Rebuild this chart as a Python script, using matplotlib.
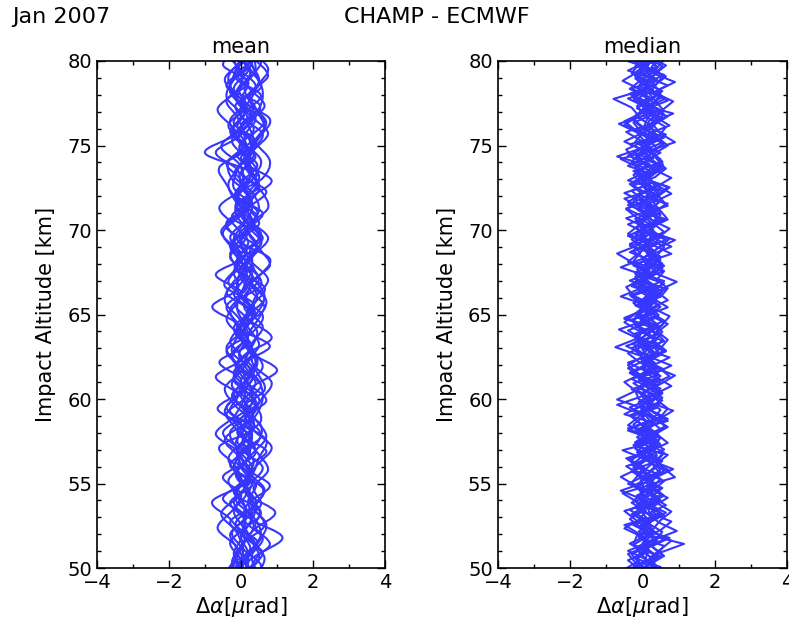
import matplotlib

matplotlib.use("Agg")
import matplotlib.pyplot as plt
import numpy as np
from matplotlib.patches import PathPatch
from matplotlib.path import Path
from matplotlib.ticker import MultipleLocator

# profiles of CHAMP - ECMWF bending angle difference, bottom (50 km) to top (80 km)
# "mean" panel: about one value per km
MEAN_PROFILES = [
    [0.05, 0.20, -0.10, 0.30, 0.15, -0.20, 0.25, 0.40, 0.00, -0.30, 0.10, 0.35, -0.10, 0.20, 0.05, -0.25,
     0.30, 0.10, -0.15, 0.20, 0.45, 0.00, -0.20, 0.10, 0.30, -0.10, 0.25, 0.00, -0.30, 0.10, 0.00],
    [0.10, -0.10, 0.30, 0.50, 0.10, 0.00, -0.30, 0.10, 0.50, 0.20, -0.10, 0.00, 0.40, 0.10, -0.30, 0.00,
     0.20, 0.55, 0.10, -0.20, 0.00, 0.30, 0.10, -0.40, 0.00, 0.20, 0.50, 0.10, -0.10, 0.20, 0.10],
    [0.20, 0.50, 1.15, 0.30, -0.20, 0.20, 0.60, 0.00, -0.50, 0.10, 0.30, -0.20, 0.10, 0.50, 0.20, -0.10,
     0.00, 0.30, -0.30, 0.10, 0.20, -0.10, 0.40, 0.20, -1.00, -0.20, 0.30, 0.00, 0.20, -0.10, 0.90],
    [-0.10, 0.30, 0.10, -0.40, 0.00, 0.40, 0.20, -0.10, 0.30, 0.60, 0.10, -0.20, 0.20, 0.00, 0.45, 0.20,
     -0.20, 0.00, 0.40, 0.10, -0.30, 0.20, 0.50, 0.00, -0.10, 0.35, 0.00, -0.40, 0.10, 0.30, -0.10],
    [0.00, 0.10, 0.40, 0.20, -0.30, -0.10, 0.30, 0.70, 0.20, 0.00, -0.40, 0.10, 0.30, -0.10, 0.00, 0.50,
     0.10, -0.20, 0.20, 0.60, 0.10, -0.10, 0.30, 0.00, 0.20, 0.60, 0.10, -0.30, 0.00, 0.40, 0.20],
    [0.15, -0.20, 0.00, 0.60, 0.30, 0.10, -0.20, 0.20, 0.00, 0.50, 0.30, -0.30, 0.00, 0.30, -0.20, 0.10,
     0.60, 0.20, 0.00, -0.30, 0.10, 0.40, -0.20, 0.20, 0.10, -0.30, 0.00, 0.60, 0.20, -0.20, 0.30],
    [-0.20, 0.00, 0.20, -0.20, 0.50, 0.20, -0.10, 0.00, -0.60, -0.10, 0.20, 0.50, 0.00, -0.30, 0.20, 0.40,
     -0.10, 0.20, 0.00, 0.30, -0.10, -0.50, 0.10, 0.40, 0.20, 0.00, -0.20, 0.30, 0.50, 0.00, -0.20],
    [0.10, 0.30, -0.20, 0.10, 0.70, 0.00, 0.10, -0.40, 0.20, 0.30, -0.20, 0.40, 0.20, -0.10, 0.60, 0.00,
     -0.40, 0.30, 0.10, 0.00, 0.30, -0.20, 0.00, 0.60, -0.10, 0.10, 0.40, 0.20, 0.00, 0.50, 0.10],
    [0.30, 0.00, 0.20, -0.10, -0.60, 0.30, 0.50, 0.10, -0.10, 0.40, 0.00, 0.20, -0.40, 0.40, 0.10, -0.10,
     0.20, -0.50, 0.30, 0.10, -0.20, 0.50, 0.20, 0.10, -0.50, 0.20, 0.10, -0.20, 0.40, -0.30, 0.20],
    [0.00, 0.40, 0.20, 0.00, 0.30, 0.50, -0.20, 0.30, 0.10, -0.10, 0.60, 0.10, -0.20, 0.20, 0.00, 0.30,
     0.00, 0.40, -0.10, -0.40, 0.20, 0.10, 0.60, -0.10, 0.30, -0.20, 0.20, 0.40, -0.50, 0.00, 0.30],
    [0.20, -0.10, 0.50, 0.10, 0.20, -0.50, 0.00, 0.20, 0.40, -0.20, 0.10, 0.00, 0.70, 0.00, -0.10, 0.20,
     0.40, 0.00, 0.50, 0.20, -0.10, 0.30, -0.40, 0.30, 0.50, 0.10, -0.30, 0.20, 0.30, 0.10, -0.10],
    [-0.05, 0.20, 0.00, 0.40, -0.20, 0.30, 0.10, -0.30, 0.60, 0.00, 0.20, -0.40, 0.30, 0.00, 0.20, -0.50,
     0.20, 0.10, 0.30, 0.00, 0.40, 0.20, -0.10, -0.30, 0.40, 0.00, 0.30, -0.10, 0.10, 0.60, 0.00],
    [0.10, 0.00, -0.30, 0.20, 0.40, 0.10, 0.30, 0.00, 0.30, -0.20, 0.50, 0.20, 0.00, -0.40, 0.30, 0.60,
     0.00, -0.10, 0.20, 0.40, -0.40, 0.00, 0.20, 0.50, 0.00, 0.40, -0.20, 0.10, -0.20, 0.20, 0.40],
    [0.25, 0.10, 0.40, -0.10, 0.00, 0.60, 0.00, 0.50, -0.30, 0.20, 0.40, 0.30, -0.10, 0.60, -0.20, 0.10,
     -0.20, 0.30, 0.60, -0.20, 0.30, 0.00, 0.30, 0.10, -0.30, 0.30, 0.60, -0.10, 0.30, 0.00, -0.30],
    [-0.10, 0.10, 0.20, 0.00, -0.40, 0.10, 0.40, 0.20, 0.00, 0.20, -0.50, 0.20, 0.50, 0.10, 0.30, 0.20,
     0.50, -0.30, 0.00, 0.30, 0.10, 0.60, 0.00, 0.20, 0.10, -0.40, 0.10, 0.50, 0.00, -0.20, 0.20],
    [0.05, 0.50, 0.00, 0.20, 0.10, 0.30, -0.40, 0.10, 0.20, 0.00, 0.30, -0.30, 0.00, 0.20, 0.50, 0.00,
     0.10, 0.20, -0.20, 0.50, 0.00, -0.20, 0.40, 0.10, 0.20, 0.50, -0.10, 0.00, 0.40, 0.20, 0.10],
    [0.00, -0.20, 0.10, 0.40, 0.20, -0.10, 0.30, 0.00, -0.40, 0.20, 0.50, 0.10, 0.30, -0.20, 0.00, 0.40,
     0.20, -0.30, 0.10, 0.50, 0.20, -0.10, 0.00, 0.40, 0.60, 0.10, -0.30, 0.20, 0.00, 0.30, -0.10],
    [0.20, 0.40, 0.00, -0.20, 0.30, 0.10, 0.50, 0.20, -0.20, 0.00, 0.30, 0.60, 0.10, 0.00, -0.30, 0.20,
     0.40, 0.10, -0.10, 0.30, 0.00, 0.50, 0.30, -0.20, 0.10, 0.00, 0.40, -0.20, 0.20, 0.50, 0.00],
    [-0.10, 0.10, 0.60, 0.30, 0.00, 0.20, -0.30, 0.40, 0.10, 0.20, -0.20, 0.30, 0.00, 0.50, 0.20, -0.20,
     0.10, 0.30, 0.50, 0.00, -0.30, 0.20, 0.40, 0.20, -0.20, 0.50, 0.10, 0.30, -0.10, 0.00, 0.20],
    [0.10, 0.00, 0.30, -0.30, 0.20, 0.50, 0.00, -0.20, 0.40, 0.10, 0.00, 0.40, -0.30, 0.10, 0.30, 0.00,
     0.30, 0.00, -0.30, 0.40, 0.20, 0.00, -0.30, 0.30, 0.10, 0.20, 0.00, -0.30, 0.40, 0.10, -0.20],
    [0.00, 0.30, 0.10, 0.20, -0.20, 0.40, 0.10, 0.00, 0.40, -0.30, 0.20, 0.10, 0.50, 0.20, -0.10, 0.30,
     -0.30, 0.20, 0.40, -0.10, 0.20, 0.40, -0.10, 0.00, 0.30, 0.20, 0.50, 0.00, -0.20, 0.30, 0.10],
    [0.10, -0.30, 0.20, 0.00, 0.50, 0.20, 0.10, 0.30, 0.00, 0.30, 0.20, -0.10, 0.20, 0.40, 0.00, 0.10,
     0.30, 0.60, -0.20, 0.00, 0.50, -0.30, 0.20, 0.00, 0.40, -0.10, 0.30, 0.10, 0.50, -0.20, 0.30],
]
# lowest level of each mean profile, km below 50
MEAN_ALT_SHIFT = [0.0, 0.5, 0.25, 0.75, 0.1, 0.6, 0.35, 0.85, 0.2, 0.45, 0.7,
                  0.05, 0.55, 0.3, 0.9, 0.15, 0.65, 0.4, 0.8, 0.5, 0.25, 0.95]
# overall bias of each mean profile, microrad
MEAN_BIAS = [-0.15, 0.2, 0.0, -0.25, 0.15, 0.05, -0.1, 0.25, -0.2, 0.1, 0.3,
             -0.3, 0.0, 0.2, -0.15, 0.1, -0.05, 0.25, -0.2, 0.15, -0.1, 0.05]

# "median" panel: about one value per half km
MEDIAN_PROFILES = [
    [0.0, 0.3, -0.2, 0.4, 0.1, -0.3, 0.5, 0.0, 0.2, -0.4, 0.3, 0.6, -0.1, 0.2, 0.0, 0.5, -0.2, 0.3, 0.1, -0.5,
     0.2, 0.4, -0.1, 0.6, 0.1, -0.2, 0.3, 0.0, 0.5, -0.3, 0.2, 0.1, 0.6, -0.1, 0.3, -0.4, 0.2, 0.5, 0.0, 0.3,
     -0.2, 0.4, 0.1, -0.3, 0.5, 0.2, 0.0, 0.4, -0.2, 0.3, 0.6, 0.0, -0.3, 0.2, 0.4, -0.1, 0.3, 0.0, 0.5, -0.2,
     0.1],
    [0.2, -0.1, 0.4, 0.1, 0.6, -0.2, 0.1, 0.3, -0.3, 0.4, 0.0, 0.2, 0.7, 0.1, -0.2, 0.3, 0.0, 0.5, 0.2, -0.1,
     0.4, 0.0, -0.4, 0.3, 0.1, 0.6, -0.1, 0.2, 0.4, 0.0, -0.3, 0.3, 0.1, 0.5, -0.2, 0.4, 0.0, 0.2, -0.5, 0.3,
     0.6, 0.1, -0.1, 0.3, 0.0, -0.4, 0.2, 0.5, 0.1, -0.2, 0.4, 0.0, 0.6, 0.2, -0.3, 0.1, 0.4, -0.1, 0.2, 0.5,
     0.0],
    [-0.2, 0.1, 0.5, 1.15, 0.2, -0.1, 0.3, 0.0, 0.5, 0.2, -0.4, 0.1, 0.4, 0.0, 0.6, 0.2, -0.2, 0.3, 0.5, 0.0,
     0.2, -0.3, 0.4, 0.1, 0.0, 0.5, 0.3, -0.2, 0.1, 0.6, 0.2, -0.1, 0.4, -0.3, 0.2, 0.0, 0.5, 0.1, 0.3, -0.2,
     0.2, 0.4, -0.1, 0.1, 0.6, 0.0, 0.3, -0.4, 0.1, 0.4, 0.2, -0.1, 0.3, 0.6, 0.0, 0.2, -0.3, 0.4, 0.1, 0.0,
     0.3],
    [0.3, 0.0, 0.2, -0.3, 0.1, 0.7, 0.2, -0.1, 0.4, 0.0, 0.3, -0.2, 0.5, 0.1, 0.3, -0.5, 0.0, 0.4, 0.2, 0.6,
     -0.1, 0.3, 0.0, 0.5, 0.2, -0.3, 0.4, 0.1, -0.1, 0.3, 0.5, 0.0, -0.2, 0.2, 0.7, 0.1, 0.3, -0.1, 0.2, 0.5,
     -0.3, 0.2, 0.0, 0.4, 0.2, 0.5, -0.2, 0.1, 0.3, 0.0, -0.6, 0.2, 0.4, 0.0, 0.3, 0.6, 0.1, -0.2, 0.3, 0.0,
     0.2],
    [-0.1, 0.2, 0.0, 0.5, 0.3, -0.2, 0.2, 0.4, 0.0, 0.6, 0.1, -0.3, 0.2, 0.0, 0.4, 0.1, 0.6, -0.1, 0.2, 0.3,
     -0.4, 0.1, 0.5, 0.2, -0.1, 0.3, 0.0, 0.7, 0.2, -0.2, 0.1, 0.4, -0.3, 0.3, 0.1, 0.5, 0.0, -0.4, 0.2, 0.4,
     0.1, 0.95, 0.2, -0.1, 0.3, 0.0, 0.4, 0.2, -0.3, 0.5, 0.1, 0.3, -0.2, 0.2, 0.0, -0.5, 0.3, 0.5, 0.0, 0.2,
     -0.1],
    [0.1, 0.4, -0.3, 0.0, 0.3, 0.1, -0.4, 0.5, 0.2, -0.1, 0.2, 0.5, 0.0, -0.2, 0.3, 0.1, 0.4, -0.3, 0.6, 0.2,
     0.0, 0.4, 0.2, -0.2, 0.5, 0.0, 0.2, -0.4, 0.3, 0.1, -0.6, 0.0, 0.3, 0.1, 0.5, -0.2, 0.2, 0.4, -0.1, 0.0,
     0.5, 0.2, 0.4, -0.2, 0.1, 0.3, -0.5, 0.0, 0.4, 0.2, 0.0, 0.5, -0.1, 0.3, 0.1, 0.2, 0.4, -0.2, 0.0, 0.3,
     0.2],
    [0.0, -0.3, 0.3, 0.1, 0.4, -0.1, 0.2, 0.0, 0.6, 0.3, -0.2, 0.0, 0.3, 0.5, -0.1, 0.2, 0.0, 0.4, -0.4, 0.1,
     0.3, 0.6, 0.0, 0.2, -0.3, 0.4, 0.1, 0.3, 0.0, -0.2, 0.4, 0.2, 0.6, 0.0, -0.1, 0.3, 0.1, 0.4, 0.2, -0.3,
     0.0, 0.3, 0.5, 0.1, -0.2, 0.4, 0.0, 0.2, -0.6, 0.1, 0.3, 0.0, 0.4, 0.95, 0.1, -0.1, 0.3, 0.5, -0.3, 0.2,
     0.1],
    [0.2, 0.0, 0.4, 0.1, -0.2, 0.3, 0.6, 0.0, -0.1, 0.4, 0.1, 0.3, -0.5, 0.2, 0.4, 0.0, -0.1, 0.5, 0.1, 0.3,
     0.0, -0.2, 0.3, 0.7, 0.1, 0.0, -0.2, 0.4, 0.2, 0.5, 0.0, 0.3, -0.1, 0.2, 0.4, -0.4, 0.3, 0.0, 0.6, 0.1,
     -0.2, 0.3, 0.1, 0.5, -0.3, 0.2, 0.6, 0.1, 0.3, 0.0, 0.4, -0.2, 0.1, 0.3, -0.1, 0.5, 0.0, 0.2, 0.4, -0.4,
     0.0],
    [-0.3, 0.1, 0.2, 0.0, 0.4, 0.2, -0.1, 0.3, 0.1, -0.3, 0.5, 0.2, 0.0, 0.3, -0.3, 0.6, 0.2, 0.0, 0.3, -0.1,
     0.5, 0.1, 0.3, -0.1, 0.4, 0.2, -0.5, 0.1, 0.3, 0.0, 0.2, 0.5, 0.0, -0.2, 0.3, 0.6, 0.0, 0.2, -0.1, 0.4,
     0.3, -0.2, 0.5, 0.0, 0.2, -0.1, 0.3, 0.5, 0.0, -0.2, 0.3, 0.1, -0.4, 0.3, 0.5, 0.0, 0.2, -0.3, 0.1, 0.4,
     0.85],
    [0.1, 0.3, 0.0, -0.2, 0.3, 0.5, 0.1, -0.3, 0.2, 0.4, 0.0, -0.1, 0.4, 0.2, 0.0, 0.3, -0.2, 0.1, 0.5, -0.1,
     0.2, 0.4, 0.0, -0.1, 0.3, 0.0, 0.6, 0.2, -0.3, 0.4, 0.1, 0.0, 0.3, 0.5, 0.0, 0.2, -0.3, 0.3, 0.1, 0.6,
     0.0, -0.2, 0.3, 0.1, 0.4, 0.0, 0.2, -0.3, 0.5, 0.2, -0.1, 0.3, 0.0, -0.3, 0.4, 0.1, -0.4, 0.3, 0.6, 0.1,
     -0.2],
    [0.4, -0.1, 0.1, 0.3, -0.4, 0.0, 0.2, 0.5, 0.1, 0.0, -0.2, 0.6, 0.3, 0.0, -0.1, 0.4, 0.1, -0.3, 0.2, 0.4,
     0.1, -0.2, 0.2, 0.0, 0.5, -0.1, 0.2, 0.4, 0.1, 0.3, 0.0, -0.5, 0.2, 0.4, 0.1, 0.3, -0.2, 0.5, 0.0, 0.2,
     -0.1, 0.4, 0.2, 0.0, 0.5, 0.1, -0.3, 0.3, 0.2, -0.1, 0.6, 0.2, 0.0, 0.4, -0.2, 0.3, 0.1, 0.6, 0.0, -0.2,
     0.3],
    [-0.1, 0.2, 0.3, -0.1, 0.0, 0.4, 0.2, -0.2, 0.3, 0.1, 0.5, 0.0, 0.2, -0.3, 0.5, 0.0, 0.3, 0.1, -0.2, 0.4,
     0.2, 0.0, 0.5, -0.2, 0.3, 0.1, 0.4, 0.0, -0.5, 0.2, 0.3, 0.1, -0.2, 0.5, 0.2, 0.0, 0.4, -0.2, 0.3, 0.1,
     0.5, 0.0, -0.3, 0.2, 0.4, 0.1, -0.1, 0.3, 0.0, 0.4, 0.1, -0.3, 0.5, 0.2, 0.0, 0.3, -0.2, 0.1, 0.3, 0.0,
     0.2],
    [0.1, -0.2, 0.3, 0.0, 0.5, 0.2, -0.1, 0.4, 0.0, 0.3, -0.3, 0.2, 0.5, 0.1, -0.2, 0.4, 0.2, 0.0, 0.6, 0.1,
     -0.2, 0.3, 0.0, 0.4, -0.1, 0.2, 0.5, -0.3, 0.1, 0.3, 0.0, 0.6, 0.2, -0.1, 0.4, 0.0, -0.3, 0.3, 0.5, 0.1,
     0.2, -0.2, 0.4, 0.0, 0.3, 0.6, -0.1, 0.2, 0.0, 0.4, -0.2, 0.3, 0.1, 0.5, -0.1, 0.0, 0.4, 0.2, -0.3, 0.3,
     0.0],
    [0.0, 0.4, 0.1, -0.3, 0.2, 0.0, 0.5, 0.3, -0.2, 0.1, 0.4, 0.0, -0.4, 0.3, 0.1, 0.5, -0.1, 0.2, 0.0, 0.4,
     0.6, 0.0, 0.2, -0.2, 0.4, 0.1, -0.4, 0.3, 0.5, 0.0, 0.2, -0.2, 0.4, 0.1, 0.0, 0.6, 0.2, -0.2, 0.3, 0.0,
     0.4, 0.1, -0.4, 0.2, 0.5, 0.0, 0.3, 0.6, -0.1, 0.1, 0.3, 0.0, -0.2, 0.4, 0.2, 0.6, -0.1, 0.3, 0.0, 0.2,
     -0.1],
    [-0.2, 0.2, 0.0, 0.3, 0.6, 0.1, -0.2, 0.3, 0.1, 0.5, 0.0, -0.1, 0.3, 0.2, 0.5, -0.4, 0.1, 0.3, 0.0, -0.2,
     0.3, 0.1, 0.6, 0.2, 0.0, -0.2, 0.4, 0.1, 0.3, -0.4, 0.2, 0.0, 0.5, 0.2, -0.3, 0.1, 0.4, 0.0, 0.2, 0.7,
     0.0, 0.2, -0.2, 0.5, 0.1, 0.3, 0.0, -0.4, 0.3, 0.1, 0.5, 0.2, -0.1, 0.0, 0.4, 0.2, 0.0, 0.5, -0.1, 0.2,
     0.4],
    [0.2, 0.0, -0.2, 0.4, 0.1, 0.3, 0.0, -0.3, 0.5, 0.2, 0.0, 0.4, 0.1, -0.2, 0.3, 0.0, 0.5, 0.2, -0.1, 0.6,
     0.1, 0.0, -0.3, 0.2, 0.5, 0.3, 0.0, 0.2, -0.2, 0.4, 0.1, 0.3, -0.1, 0.6, 0.0, 0.3, -0.2, 0.1, 0.4, -0.2,
     0.3, 0.0, 0.6, 0.2, -0.3, 0.4, 0.1, 0.0, 0.5, 0.2, -0.3, 0.2, 0.4, 0.0, 0.3, -0.2, 0.5, 0.1, 0.0, 0.3,
     0.1],
    [0.0, 0.1, 0.4, -0.2, 0.3, 0.0, 0.2, 0.6, 0.1, -0.2, 0.3, 0.0, 0.2, 0.5, -0.2, 0.0, 0.4, 0.1, 0.3, -0.3,
     0.2, 0.5, 0.1, -0.1, 0.3, 0.0, 0.2, 0.5, 0.0, -0.2, 0.4, 0.1, 0.0, 0.3, -0.4, 0.2, 0.5, 0.1, 0.0, 0.3,
     -0.1, 0.5, 0.2, 0.0, -0.2, 0.3, 0.1, 0.5, 0.2, -0.3, 0.2, 0.6, 0.0, 0.1, 0.4, -0.3, 0.2, 0.0, 0.3, 0.5,
     0.0],
    [0.3, 0.1, -0.1, 0.2, 0.5, 0.0, 0.3, -0.2, 0.2, 0.0, 0.6, 0.2, -0.2, 0.1, 0.4, 0.0, 0.2, -0.3, 0.4, 0.1,
     0.0, 0.3, 0.5, 0.1, -0.3, 0.2, 0.4, 0.0, 0.2, 0.5, -0.1, 0.2, 0.4, 0.0, 0.2, -0.1, 0.3, 0.6, 0.1, -0.2,
     0.2, 0.0, 0.3, -0.3, 0.2, 0.4, 0.1, 0.3, -0.2, 0.0, 0.3, 0.5, 0.1, -0.2, 0.2, 0.4, 0.0, 0.3, -0.1, 0.2,
     0.4],
]
# lowest level of each median profile, km below 50
MEDIAN_ALT_SHIFT = [0.0, 0.25, 0.1, 0.35, 0.2, 0.45, 0.05, 0.3, 0.15,
                    0.4, 0.22, 0.12, 0.33, 0.08, 0.42, 0.18, 0.28, 0.38]
# overall bias of each median profile, microrad
MEDIAN_BIAS = [-0.2, 0.15, 0.0, 0.25, -0.3, 0.1, -0.1, 0.2, -0.25,
               0.05, 0.3, -0.15, 0.1, -0.05, 0.2, -0.2, 0.05, -0.1]

ALT_RANGE = (50, 80)
X_RANGE = (-4, 4)
LINE_COLOR = "#3636ff"

plt.rcParams["font.family"] = ["DejaVu Sans"]
plt.rcParams["font.size"] = 14


def smooth_path(xs, ys):
    """Catmull-Rom curve through the points, drawn as cubic Bezier pieces."""
    pts = np.column_stack([xs, ys])
    padded = np.vstack([pts[:1], pts, pts[-1:]])
    verts = [pts[0]]
    codes = [Path.MOVETO]
    for i in range(len(pts) - 1):
        p0, p1, p2, p3 = padded[i], padded[i + 1], padded[i + 2], padded[i + 3]
        verts += [p1 + (p2 - p0) / 6, p2 - (p3 - p1) / 6, p2]
        codes += [Path.CURVE4] * 3
    return Path(verts, codes)


def draw_panel(ax, profiles, shifts, biases, top_extra, title, smooth):
    for prof, shift, bias in zip(profiles, shifts, biases):
        alts = np.linspace(ALT_RANGE[0] - shift, ALT_RANGE[1] + top_extra - shift, len(prof))
        vals = np.asarray(prof) + bias
        if smooth:
            ax.add_patch(PathPatch(smooth_path(vals, alts), fill=False, edgecolor=LINE_COLOR, linewidth=1.5))
        else:
            ax.plot(vals, alts, color=LINE_COLOR, linewidth=1.5)

    ax.set_xlim(*X_RANGE)
    ax.set_ylim(*ALT_RANGE)
    ax.xaxis.set_major_locator(MultipleLocator(2))
    ax.xaxis.set_minor_locator(MultipleLocator(1))
    ax.yaxis.set_major_locator(MultipleLocator(5))
    ax.yaxis.set_minor_locator(MultipleLocator(1))
    ax.tick_params(which="both", direction="in", top=True, right=True, labelsize=14)
    ax.tick_params(which="major", length=6, width=1)
    ax.tick_params(which="minor", length=3, width=1)
    for spine in ax.spines.values():
        spine.set_linewidth(1.2)

    ax.set_title(title, fontsize=15, pad=6)
    ax.set_xlabel(r"$\Delta\alpha[\mu$rad]", fontsize=15, labelpad=2)
    ax.set_ylabel("Impact Altitude [km]", fontsize=15, labelpad=8)


fig = plt.figure(figsize=(7.89, 6.25), dpi=100)
ax_mean = fig.add_axes([0.123, 0.0912, 0.365, 0.8112])
ax_median = fig.add_axes([0.631, 0.0912, 0.3665, 0.8112])

draw_panel(ax_mean, MEAN_PROFILES, MEAN_ALT_SHIFT, MEAN_BIAS, 1.0, "mean", smooth=True)
draw_panel(ax_median, MEDIAN_PROFILES, MEDIAN_ALT_SHIFT, MEDIAN_BIAS, 0.5, "median", smooth=False)

fig.text(0.015, 0.973, "Jan 2007", fontsize=16, ha="left", va="center")
fig.text(0.553, 0.973, "CHAMP - ECMWF", fontsize=16, ha="center", va="center")

fig.savefig("out.png", dpi=100)
